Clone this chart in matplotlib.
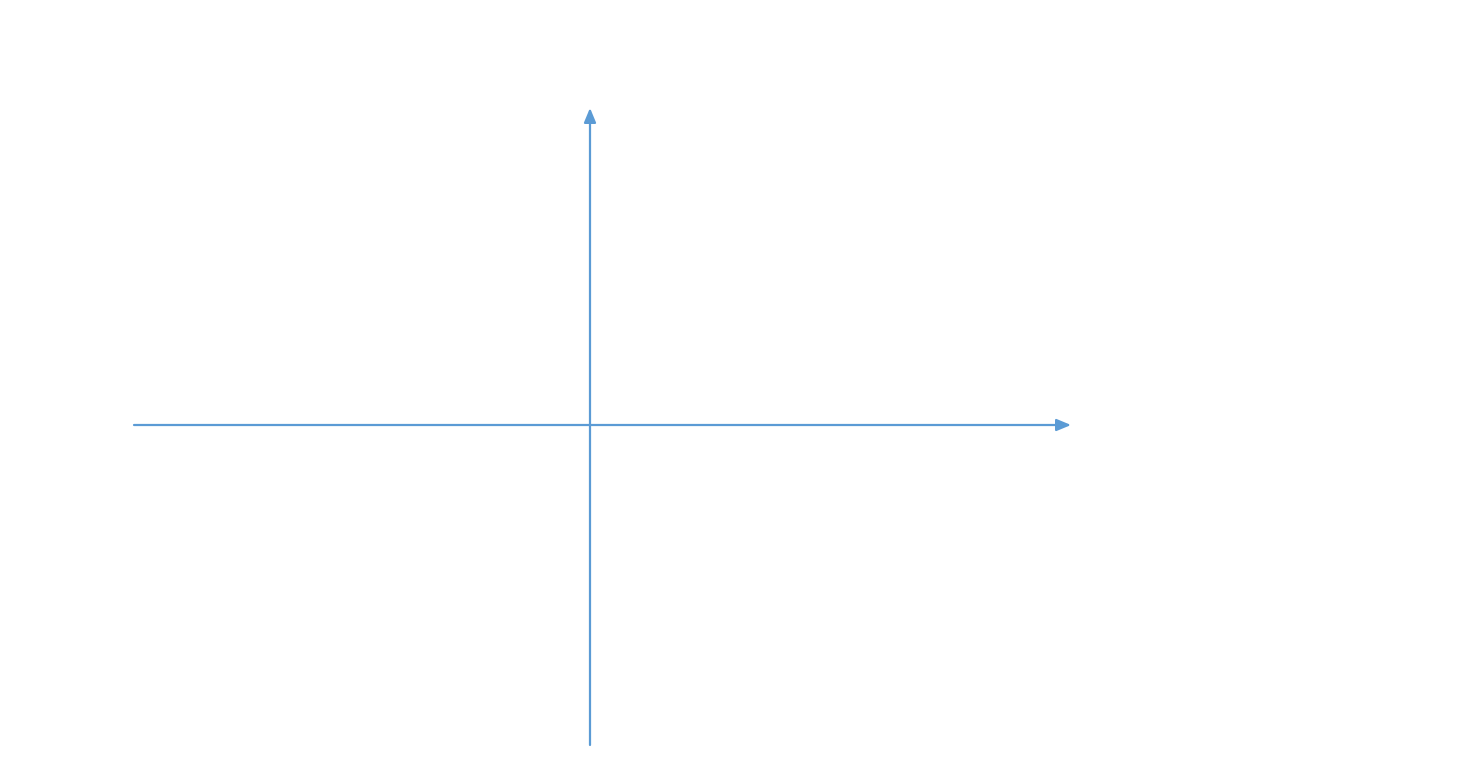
import matplotlib
matplotlib.use('Agg')
import matplotlib.pyplot as plt

# axis extents (in units, origin at crossing)
x_axis = [-4.56, 4.81]
y_axis = [-3.20, 3.17]
axis_color = '#5B9BD5'

fig = plt.figure(figsize=(14.58, 7.74), dpi=100)
ax = fig.add_axes([0, 0, 1, 1])
ax.set_xlim(-5.90, 8.68)
ax.set_ylim(-3.49, 4.25)
ax.axis('off')

arrow = dict(arrowstyle='-|>,head_length=0.48,head_width=0.2', color=axis_color,
             lw=1.6, mutation_scale=18, shrinkA=0, shrinkB=0)
# horizontal axis
ax.annotate('', xy=(x_axis[1], 0), xytext=(x_axis[0], 0), arrowprops=arrow)
# vertical axis
ax.annotate('', xy=(0, y_axis[1]), xytext=(0, y_axis[0]), arrowprops=arrow)

fig.savefig('out.png', dpi=100, facecolor='white')
